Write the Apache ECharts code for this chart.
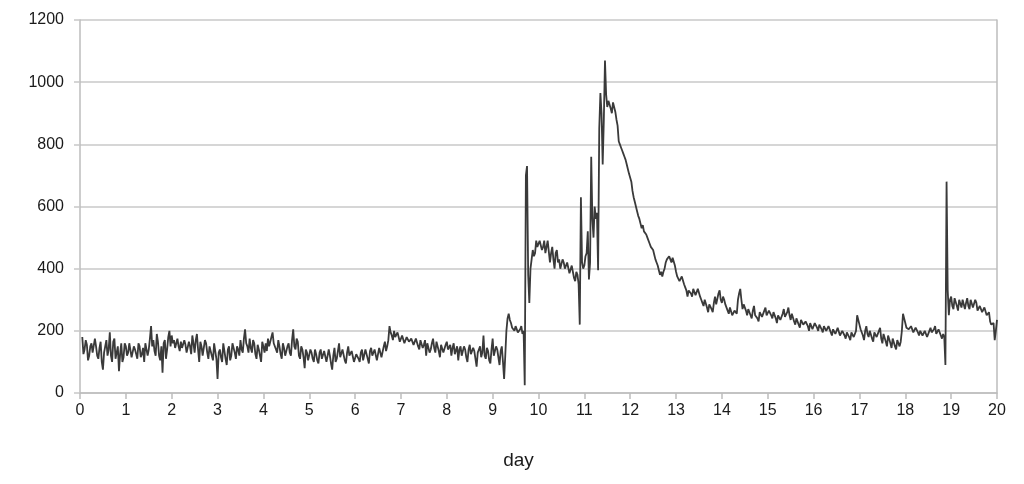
<!DOCTYPE html>
<html>
<head>
<meta charset="utf-8">
<script src="https://cdn.jsdelivr.net/npm/echarts@6/dist/echarts.min.js"></script>
<style>
html,body{margin:0;padding:0;background:#fff;}
#chart{width:1024px;height:484px;}
</style>
</head>
<body>
<div id="chart"></div>
<script>
// Sampling: first sample day and spacing between samples (days)
const firstDay = 0.05;
const sampleStep = 0.025;

// Values. dayNN = samples at NN.05, NN.10, ... ; midNN = samples halfway after each
const day00 = [180,140,155,120,160,135,150,110,165,75,150,120,195,100,175,130,70,160,115,150];
const mid00 = [125,170,105,150,130,175,120,145,100,130,170,140,120,165,110,150,125,100,160,120];
const day01 = [130,165,120,140,110,150,125,100,165,140,215,170,120,165,105,65,170,140,200,185];
const mid01 = [160,115,150,125,160,115,145,160,120,175,150,135,190,120,150,160,110,180,150,160];
const day02 = [170,160,150,165,140,155,135,150,185,130,190,100,150,125,160,110,145,105,135,45];
const mid02 = [145,175,135,145,170,130,165,125,160,170,140,165,120,170,130,150,120,160,110,130];
const day03 = [140,100,160,90,150,120,165,110,140,170,130,205,150,175,130,160,110,140,100,150];
const mid03 = [115,160,110,140,105,160,130,150,120,140,175,160,130,145,170,125,155,120,165,130];
const day04 = [160,175,150,195,165,130,150,110,145,125,160,120,205,140,165,110,140,80,130,110];
const mid04 = [135,150,180,160,140,170,125,160,120,150,130,170,150,175,120,150,115,140,105,140];
const day05 = [130,100,125,95,140,115,130,100,120,75,145,110,160,120,135,95,150,115,140,105];
const mid05 = [110,140,105,130,110,135,100,140,95,120,100,135,115,140,105,130,120,135,100,125];
const day06 = [130,100,140,110,125,95,145,115,135,100,150,120,165,150,215,185,200,175,190,170];
const mid06 = [110,130,105,140,110,135,120,140,105,145,115,150,135,170,195,170,180,195,165,185];
const day07 = [180,165,185,160,175,150,180,140,170,155,120,165,140,175,130,160,115,150,130,165];
const mid07 = [160,180,165,175,155,175,150,170,145,170,160,130,160,145,165,135,155,130,155,140];
const day08 = [140,120,160,130,105,150,125,140,100,155,120,135,85,140,115,185,110,135,95,175];
const mid08 = [155,145,125,150,140,120,150,115,140,125,145,110,130,150,130,120,145,105,140,120];
const day09 = [120,140,90,150,45,200,255,225,205,215,195,205,190,25,730,290,430,440,490,480];
const mid09 = [150,115,135,100,120,240,235,210,200,210,200,215,200,700,380,400,460,450,470,490];
const day10 = [490,470,450,490,420,470,400,460,430,400,420,395,415,390,405,360,380,220,420,410];
const mid10 = [460,490,470,455,450,430,450,420,400,430,400,420,385,410,370,390,350,630,400,440];
const day11 = [450,365,760,500,560,395,965,735,1070,920,945,900,940,880,810,790,770,750,720,700];
const mid11 = [520,420,560,600,580,850,900,880,960,940,915,935,905,860,800,780,760,735,705,680];
const day12 = [650,615,585,560,530,520,510,495,470,460,430,410,380,375,400,430,440,420,430,390];
const mid12 = [630,600,570,545,540,515,500,480,475,445,420,395,390,390,420,425,430,435,410,375];
const day13 = [370,355,380,340,310,335,310,340,315,330,300,280,305,260,290,260,310,280,330,290];
const mid13 = [360,375,350,330,330,320,335,315,335,310,290,300,275,285,270,290,285,320,300,310];
const day14 = [300,280,255,270,245,260,300,335,270,290,250,275,240,280,255,230,265,245,275,250];
const mid14 = [285,265,275,250,265,255,320,300,285,265,270,250,265,250,240,260,245,265,250,265];
const day15 = [270,240,265,225,255,230,270,240,275,235,250,220,240,210,230,215,235,200,225,210];
const mid15 = [250,260,240,250,235,255,245,260,250,255,230,240,220,235,220,230,215,225,205,225];
const day16 = [230,200,225,195,220,200,215,185,210,190,215,180,200,175,195,170,190,175,250,220];
const mid16 = [210,220,205,215,200,215,195,205,190,210,185,200,185,195,180,195,180,200,235,205];
const day17 = [200,170,215,180,205,165,200,175,210,160,195,150,190,145,180,140,175,165,255,225];
const mid17 = [185,200,190,200,175,195,180,200,175,190,165,185,160,175,150,170,150,200,240,210];
const day18 = [215,200,220,190,210,185,205,180,195,175,210,190,215,185,200,175,180,680,250,310];
const mid18 = [205,215,195,210,195,200,185,200,180,200,195,205,190,205,185,190,90,330,300,280];
const day19 = [270,300,265,305,300,270,305,270,295,275,290,260,285,255,270,245,230,215,170,235];
const mid19 = [305,280,300,275,305,290,280,300,275,300,265,280,260,275,250,260,220,225,200];

const yTicks = [0,200,400,600,800,1000,1200];
const xTicks = [0,1,2,3,4,5,6,7,8,9,10,11,12,13,14,15,16,17,18,19,20];

const mains = [day00,day01,day02,day03,day04,day05,day06,day07,day08,day09,
  day10,day11,day12,day13,day14,day15,day16,day17,day18,day19];
const mids = [mid00,mid01,mid02,mid03,mid04,mid05,mid06,mid07,mid08,mid09,
  mid10,mid11,mid12,mid13,mid14,mid15,mid16,mid17,mid18,mid19];
const allValues = [];
mains.forEach((arr, d) => {
  arr.forEach((v, i) => {
    allValues.push(v);
    if (mids[d][i] !== undefined) allValues.push(mids[d][i]);
  });
});
const seriesData = allValues.map((v, i) => [+(firstDay + i * sampleStep).toFixed(3), v]);

const gridColor = '#c8c8c8';
const axisColor = '#bdbdbd';
const textColor = '#1a1a1a';
const font = 'Liberation Sans, Arial, sans-serif';

const chart = echarts.init(document.getElementById('chart'), null, {renderer: 'canvas'});
chart.setOption({
  animation: false,
  backgroundColor: '#fff',
  grid: {left: 80, right: 27, top: 20, bottom: 91, containLabel: false},
  xAxis: {
    type: 'value',
    min: xTicks[0], max: xTicks[xTicks.length - 1], interval: 1,
    name: 'day', nameLocation: 'middle', nameGap: 58,
    nameTextStyle: {fontFamily: font, fontSize: 19, color: textColor, padding: [0, 40, 0, 0]},
    axisLine: {show: true, lineStyle: {color: axisColor, width: 1.5}},
    axisTick: {show: true, length: 6, lineStyle: {color: axisColor, width: 1.5}},
    axisLabel: {fontFamily: font, fontSize: 16, color: textColor, margin: 10},
    splitLine: {show: false}
  },
  yAxis: [{
    type: 'value',
    min: yTicks[0], max: yTicks[yTicks.length - 1], interval: 200,
    axisLine: {show: true, lineStyle: {color: axisColor, width: 1.5}},
    axisTick: {show: true, length: 6, lineStyle: {color: gridColor, width: 1.5}},
    axisLabel: {fontFamily: font, fontSize: 16, color: textColor, margin: 16,
      formatter: v => String(v)},
    splitLine: {show: true, lineStyle: {color: gridColor, width: 1.5}}
  }, {
    type: 'value', position: 'right',
    min: yTicks[0], max: yTicks[yTicks.length - 1], interval: 200,
    axisLine: {show: true, lineStyle: {color: axisColor, width: 1.5}},
    axisTick: {show: false}, axisLabel: {show: false}, splitLine: {show: false}
  }],
  series: [{
    type: 'line',
    data: seriesData,
    yAxisIndex: 0,
    showSymbol: false,
    symbol: 'none',
    lineStyle: {color: '#3a3a3a', width: 1.8},
    z: 5
  }]
});
</script>
</body>
</html>
